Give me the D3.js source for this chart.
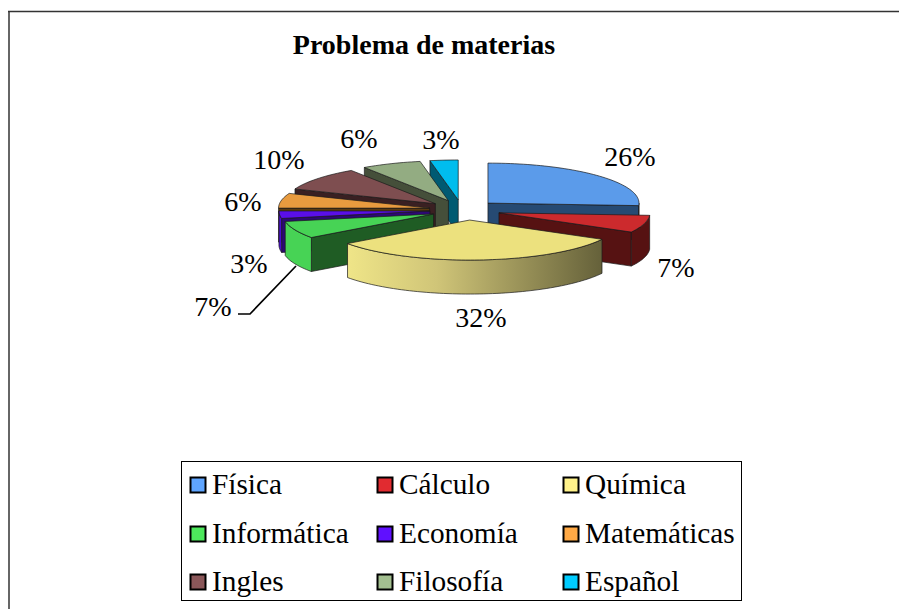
<!DOCTYPE html>
<html>
<head>
<meta charset="utf-8">
<script src="https://cdn.jsdelivr.net/npm/d3@7"></script>
<style>
  html, body { margin: 0; padding: 0; background: #fff; }
  svg { display: block; }
  text { font-family: "Liberation Serif", serif; fill: #000; }
</style>
</head>
<body>
<script>
const categories = ["Física", "Cálculo", "Química", "Informática", "Economía", "Matemáticas", "Ingles", "Filosofía", "Español"];
const values = [26, 7, 32, 7, 3, 6, 9.6, 6.4, 3];
const top_colors = ["#5b9bea", "#cc2a2d", "#ece17e", "#47d355", "#5a0fe8", "#e89b3f", "#7e4e50", "#93ac82", "#00bdee"];
const wall_colors = ["#264a73", "#561212", "#6b673c", "#1f5c24", "#2d0875", "#5a3a10", "#3a2022", "#454f3a", "#005a72"];
const rim_colors = ["#264a73", "#561212", "url(#rim_gradient)", "#47d355", "#4a0cd0", "#e89b3f", "#7e4e50", "#93ac82", "#00bdee"];
const legend_colors = ["#5fa5ff", "#e12b30", "#fff28a", "#4de85c", "#6010ff", "#ffa945", "#8a5759", "#a3bf90", "#00ccff"];

const width = 899, height = 609;
const cx = 464.5, cy = 210, rx = 151, ry = 40, depth = 34, explode = 35, skew = 3;

const svg = d3.select("body").append("svg")
    .attr("width", width)
    .attr("height", height);

// gradient on the front wall of the biggest slice
const grad = svg.append("defs").append("linearGradient").attr("id", "rim_gradient");
grad.append("stop").attr("offset", "0%").attr("stop-color", "#efe588");
grad.append("stop").attr("offset", "35%").attr("stop-color", "#d0c578");
grad.append("stop").attr("offset", "100%").attr("stop-color", "#65613a");

// chart border, only top and left show
svg.append("line")
    .attr("x1", 9).attr("y1", 12).attr("x2", 9).attr("y2", height)
    .attr("stroke", "#666")
    .attr("stroke-width", 2);
svg.append("line")
    .attr("x1", 8).attr("y1", 11.5).attr("x2", width).attr("y2", 11.5)
    .attr("stroke", "#333")
    .attr("stroke-width", 1.5);

svg.append("text")
    .attr("x", 424)
    .attr("y", 54)
    .attr("text-anchor", "middle")
    .style("font-size", "28px")
    .style("font-weight", "bold")
    .text("Problema de materias");

// angles clockwise from the top, 0 to 2 pi
const slices = d3.pie().sort(null).value(d => d)(values).map((s, i) => {
    const mid = (s.startAngle + s.endAngle) / 2;
    const dir_y = -Math.cos(mid);
    return {
        i: i,
        start: s.startAngle,
        end: s.endAngle,
        mid: mid,
        ox: cx + explode * Math.sin(mid) + skew * dir_y,
        oy: cy + 38 * (ry / rx) * dir_y
    };
});

const rim_point = (s, a, drop) => [s.ox + rx * Math.sin(a), s.oy - ry * Math.cos(a) + drop];
const line = d3.line();

function arc_points(s, a0, a1, drop) {
    const n = Math.max(2, Math.ceil((a1 - a0) / 0.03));
    return d3.range(n + 1).map(k => rim_point(s, a0 + (a1 - a0) * k / n, drop));
}

// paint back slices first
const ordered = slices.slice().sort((a, b) => d3.ascending(-Math.cos(a.mid), -Math.cos(b.mid)));

const groups = svg.selectAll(".slice")
    .data(ordered)
    .enter()
    .append("g")
    .attr("class", "slice")
    .attr("stroke", "#1a1a1a")
    .attr("stroke-width", 0.7)
    .attr("stroke-linejoin", "round");

groups.each(function(s) {
    const g = d3.select(this);

    // radial wall facing the viewer
    const wall_angle = s.mid < Math.PI ? s.end : s.start;
    if ((s.mid < Math.PI && Math.sin(s.end) > 0) || (s.mid >= Math.PI && Math.sin(s.start) < 0)) {
        const p = rim_point(s, wall_angle, 0);
        g.append("path")
            .attr("d", line([[s.ox, s.oy], p, [p[0], p[1] + depth], [s.ox, s.oy + depth]]) + "Z")
            .attr("fill", wall_colors[s.i]);
    }

    // outer wall, only the part between 90 and 270 degrees shows
    const a0 = Math.max(s.start, Math.PI / 2);
    const a1 = Math.min(s.end, 3 * Math.PI / 2);
    if (a1 > a0) {
        g.append("path")
            .attr("d", line(arc_points(s, a0, a1, 0).concat(arc_points(s, a0, a1, depth).reverse())) + "Z")
            .attr("fill", rim_colors[s.i]);
    }

    // top face
    g.append("path")
        .attr("d", line([[s.ox, s.oy]].concat(arc_points(s, s.start, s.end, 0))) + "Z")
        .attr("fill", top_colors[s.i]);
});

// percent labels
const label_x = [630, 676, 481, 213, 249, 243, 279, 359, 441];
const label_y = [166, 277, 327, 316, 273, 211, 169, 148, 149];
svg.selectAll(".pct")
    .data(slices)
    .enter()
    .append("text")
    .attr("class", "pct")
    .attr("x", s => label_x[s.i])
    .attr("y", s => label_y[s.i])
    .attr("text-anchor", "middle")
    .style("font-size", "28px")
    .text(s => Math.round(values[s.i]) + "%");

// leader line for the Informática label
svg.append("path")
    .attr("d", line([[238, 314], [250, 314], [296, 266]]))
    .attr("fill", "none")
    .attr("stroke", "#000")
    .attr("stroke-width", 1.7);

// legend
const legend_box = svg.append("rect")
    .attr("x", 181.5)
    .attr("y", 461.5)
    .attr("width", 560)
    .attr("height", 139)
    .attr("fill", "#fff")
    .attr("stroke", "#000")
    .attr("stroke-width", 1);

const col_x = d3.scaleOrdinal().domain([0, 1, 2]).range([190, 377, 563]);
const row_y = d3.scaleOrdinal().domain([0, 1, 2]).range([485, 534, 582]);

const legend = svg.selectAll(".legend_item")
    .data(categories)
    .enter()
    .append("g")
    .attr("class", "legend_item")
    .attr("transform", (d, i) => `translate(${col_x(i % 3)}, ${row_y(Math.floor(i / 3))})`);

legend.append("rect")
    .attr("x", 0.5)
    .attr("y", -7.5)
    .attr("width", 15)
    .attr("height", 15)
    .attr("fill", (d, i) => legend_colors[i])
    .attr("stroke", "#000")
    .attr("stroke-width", 2);

legend.append("text")
    .attr("x", 22)
    .attr("y", 9)
    .style("font-size", "29.3px")
    .text(d => d);
</script>
</body>
</html>
